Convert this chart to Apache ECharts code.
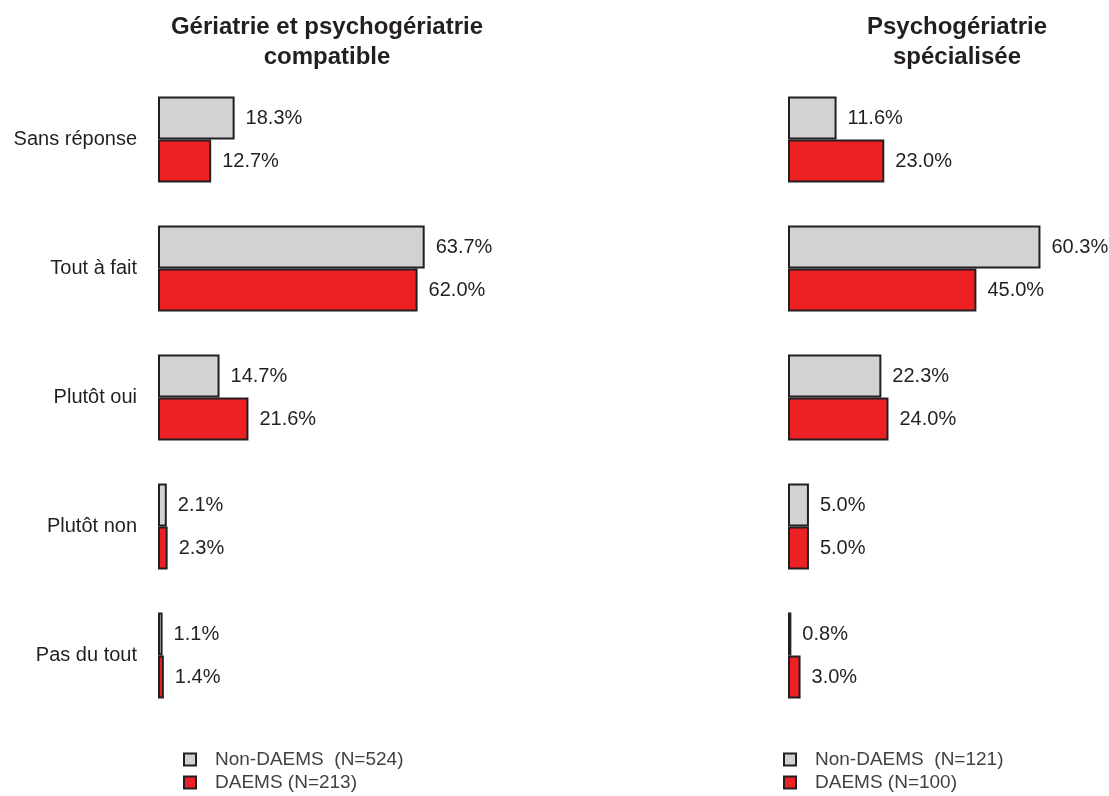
<!DOCTYPE html>
<html><head><meta charset="utf-8">
<script src="https://cdn.jsdelivr.net/npm/echarts@6/dist/echarts.min.js"></script>
<style>html,body{margin:0;padding:0;background:#fff}#c{width:1109px;height:796px}</style>
</head><body><div id="c"></div>
<script>
const categories = ['Sans réponse', 'Tout à fait', 'Plutôt oui', 'Plutôt non', 'Pas du tout'];
const titles = ['Gériatrie et psychogériatrie\ncompatible', 'Psychogériatrie\nspécialisée'];
const leftNonDaems = [18.3, 63.7, 14.7, 2.1, 1.1];
const leftDaems = [12.7, 62.0, 21.6, 2.3, 1.4];
const rightNonDaems = [11.6, 60.3, 22.3, 5.0, 0.8];
const rightDaems = [23.0, 45.0, 24.0, 5.0, 3.0];
const seriesNames = ['Non-DAEMS  (N=524)', 'DAEMS (N=213)', 'Non-DAEMS  (N=121)', 'DAEMS (N=100)'];

const FONT = '"Liberation Sans", Arial, sans-serif';
const GRAY = '#d1d2d4', RED = '#ed2024', EDGE = '#231f20';

function mkSeries(name, data, color, idx) {
  return {
    name, type: 'bar', data, xAxisIndex: idx, yAxisIndex: idx,
    barGap: '0%', barCategoryGap: '33.3%',
    itemStyle: { color, borderColor: EDGE, borderWidth: 2 },
    label: { show: true, position: 'right', distance: 11, color: '#231f20', fontSize: 20, fontFamily: FONT,
      formatter: p => p.value.toFixed(1) + '%' },
    animation: false
  };
}
function mkLegend(name, left, top) {
  return { data: [name], left, top, orient: 'vertical', itemWidth: 12, itemHeight: 12, padding: 0,
    icon: 'rect', itemStyle: { borderWidth: 2, borderColor: EDGE },
    textStyle: { fontSize: 19, color: '#414042', fontFamily: FONT, padding: [0, 0, 0, 14] } };
}
const titleStyle = { fontSize: 24, fontWeight: 'bold', color: '#231f20', fontFamily: FONT, lineHeight: 30 };
const chart = echarts.init(document.getElementById('c'));
chart.setOption({
  animation: false,
  textStyle: { fontFamily: FONT },
  title: [
    { text: titles[0], left: 322, textAlign: 'center', top: 7, textStyle: titleStyle },
    { text: titles[1], left: 952, textAlign: 'center', top: 7, textStyle: titleStyle }
  ],
  grid: [
    { left: 158, top: 75, width: 314, height: 645 },
    { left: 788, top: 75, width: 314, height: 645 }
  ],
  xAxis: [0, 1].map(i => ({ gridIndex: i, type: 'value', min: 0, max: 75, show: false })),
  yAxis: [0, 1].map(i => ({
    gridIndex: i, type: 'category', data: categories, inverse: true,
    axisLine: { show: false }, axisTick: { show: false },
    axisLabel: { show: i === 0, margin: 21, fontSize: 20, color: '#231f20', fontFamily: FONT }
  })),
  legend: [
    mkLegend(seriesNames[0], 183, 750),
    mkLegend(seriesNames[1], 183, 773),
    mkLegend(seriesNames[2], 783, 750),
    mkLegend(seriesNames[3], 783, 773)
  ],
  series: [
    mkSeries(seriesNames[0], leftNonDaems, GRAY, 0),
    mkSeries(seriesNames[1], leftDaems, RED, 0),
    mkSeries(seriesNames[2], rightNonDaems, GRAY, 1),
    mkSeries(seriesNames[3], rightDaems, RED, 1)
  ]
});
</script></body></html>
